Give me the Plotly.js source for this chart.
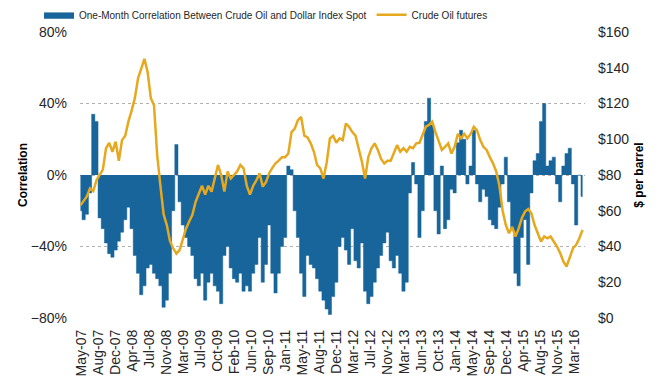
<!DOCTYPE html>
<html>
<head>
<meta charset="utf-8">
<script src="https://cdn.plot.ly/plotly-3.0.1.min.js"></script>
<style>html,body{margin:0;padding:0;background:#fff;}#chart{width:665px;height:386px;}</style>
</head>
<body>
<div id="chart"></div>
<script>
// Sampling grid: one reading every 21 days starting 1 May 2007
var startDate = '2007-05-01';
var stepDays = 21;

// One-month correlation between crude oil and dollar index spot (%)
var correlation = [
  -20,-25,-22,-10,34,30,-24,-30,-38,-44,
  -46,-42,-37,-32,-25,-18,-30,-45,-55,-67,
  -62,-52,-50,-55,-58,-62,-74,-70,-55,-20,
  17,-15,-28,-35,-40,-45,-58,-62,-55,-70,
  -60,-55,-62,-65,-72,-45,-40,-52,-58,-60,
  -55,-65,-62,-65,-55,-50,-35,-60,-50,-28,
  -55,-66,-55,-40,-35,5,3,-20,-35,-55,
  -68,-45,-50,-52,-58,-65,-70,-75,-78,-68,
  -60,-40,-35,-42,-50,-30,-48,-52,-38,-65,
  -72,-68,-60,-52,-45,-38,-32,-48,-52,-45,
  -55,-65,-60,-10,7,-5,-35,-20,30,43,
  28,-20,-33,5,-30,-25,-8,-10,18,25,
  20,-5,5,25,-5,-15,-8,-12,-25,-28,
  -30,-18,-5,10,-15,-30,-55,-62,-35,-25,
  -50,-10,8,12,30,40,5,8,10,-5,
  -15,5,12,15,-5,-28,0,-12
];

// Crude oil futures ($ per barrel)
var crudeOil = [
  63,65.5,68,72.5,71,77,80,83,95,98,
  93,98.6,88,99.5,102,110,116,123,134,140,
  145,137.7,123,119,91,74,58,52,43,39,
  36,38,44,50,54,57.7,65,69,74,69,
  74,70.7,78,85.6,80,70.7,82,78,80,82,
  85.6,83.7,74,69,74,77,81,73.5,76,81,
  84,86.5,88,90,90,92,104,106,110.7,112.5,
  102,101,97.7,93,85.6,83.7,78,87,100.5,102,
  98,100.5,99.5,108.8,107,104,102,95,87.4,78,
  90,95,97.7,94,89,86.5,88,88,92,96.7,
  93,95,93,95.8,95,97.7,98,102,107,108,
  109.8,104,99.5,94,95.8,97.7,92,95.8,103,100.5,
  103,100.5,103,107,105,99.5,95.8,94,90,86.5,
  82,74,60,52,47.4,51,45.6,50,55.8,59.5,
  61,58.6,52,47.4,42.8,45.6,44.6,45.6,42.8,40,
  36.3,31.6,28.8,33.5,39,41,44.6,49.3
];

// X-axis tick labels (evenly spaced)
var tickLabels = ['May-07','Aug-07','Dec-07','Apr-08','Jul-08','Nov-08','Mar-09','Jul-09','Oct-09','Feb-10',
  'Jun-10','Sep-10','Jan-11','May-11','Aug-11','Dec-11','Mar-12','Jul-12','Nov-12','Mar-13',
  'Jun-13','Oct-13','Jan-14','May-14','Sep-14','Dec-14','Apr-15','Aug-15','Nov-15','Mar-16'];
var firstTick = '2007-05-05';
var tickStepDays = 111.8;

var DAY = 86400000;
function isoDate(ms){ return new Date(ms).toISOString().slice(0,10); }
var t0 = Date.parse(startDate + 'T00:00:00Z');
var dates = correlation.map(function(_, i){ return isoDate(t0 + i*stepDays*DAY); });
var tk0 = Date.parse(firstTick + 'T00:00:00Z');
var tickVals = tickLabels.map(function(_, i){ return new Date(tk0 + i*tickStepDays*DAY).toISOString().slice(0,19); });

var font = 'Arial, "Liberation Sans", Helvetica, sans-serif';
var traces = [
  {
    x: dates, y: correlation, type: 'scatter', mode: 'lines',
    fill: 'tozeroy', fillcolor: '#17659A',
    line: {color: '#17659A', width: 0.5, shape: 'hvh'},
    name: 'One-Month Correlation Between Crude Oil and Dollar Index Spot',
    hoverinfo: 'x+y'
  },
  {
    x: dates, y: crudeOil, type: 'scatter', mode: 'lines', yaxis: 'y2',
    line: {color: '#E6A81E', width: 2.5},
    name: 'Crude Oil futures'
  }
];

var layout = {
  width: 665, height: 386,
  margin: {l: 80, r: 80, t: 32, b: 68, pad: 0},
  paper_bgcolor: '#fff', plot_bgcolor: '#fff',
  font: {family: font, size: 14, color: '#262626'},
  showlegend: true,
  legend: {
    orientation: 'h', xref: 'container', yref: 'container',
    x: 0.4, xanchor: 'center', y: 0.962, yanchor: 'middle',
    font: {size: 10, color: '#262626'},
    itemwidth: 30, bgcolor: 'rgba(0,0,0,0)'
  },
  xaxis: {
    type: 'date',
    range: ['2007-04-28', '2016-05-26'],
    tickvals: tickVals, ticktext: tickLabels,
    tickangle: -90, ticks: '', showgrid: false, zeroline: false, showline: false,
    ticklabelstandoff: 8,
    tickfont: {size: 14}
  },
  yaxis: {
    range: [-80, 80], dtick: 40, tick0: 0, ticksuffix: '%',
    showgrid: true, gridcolor: '#B0B0B0', griddash: '3px,3px', gridwidth: 1,
    zeroline: false, showline: false, ticks: '',
    ticklabelstandoff: 12,
    title: {text: 'Correlation', font: {size: 12, weight: 'bold', color: '#000'}, standoff: 0}
  },
  yaxis2: {
    overlaying: 'y', side: 'right', range: [0, 160], dtick: 20, tick0: 0,
    tickprefix: '$', showgrid: false, zeroline: false, showline: false, ticks: '',
    ticklabelstandoff: 12,
    title: {text: '$ per barrel', font: {size: 12, weight: 'bold', color: '#000'}, standoff: 6}
  }
};

Plotly.newPlot('chart', traces, layout, {displayModeBar: false, staticPlot: true});
</script>
</body>
</html>
